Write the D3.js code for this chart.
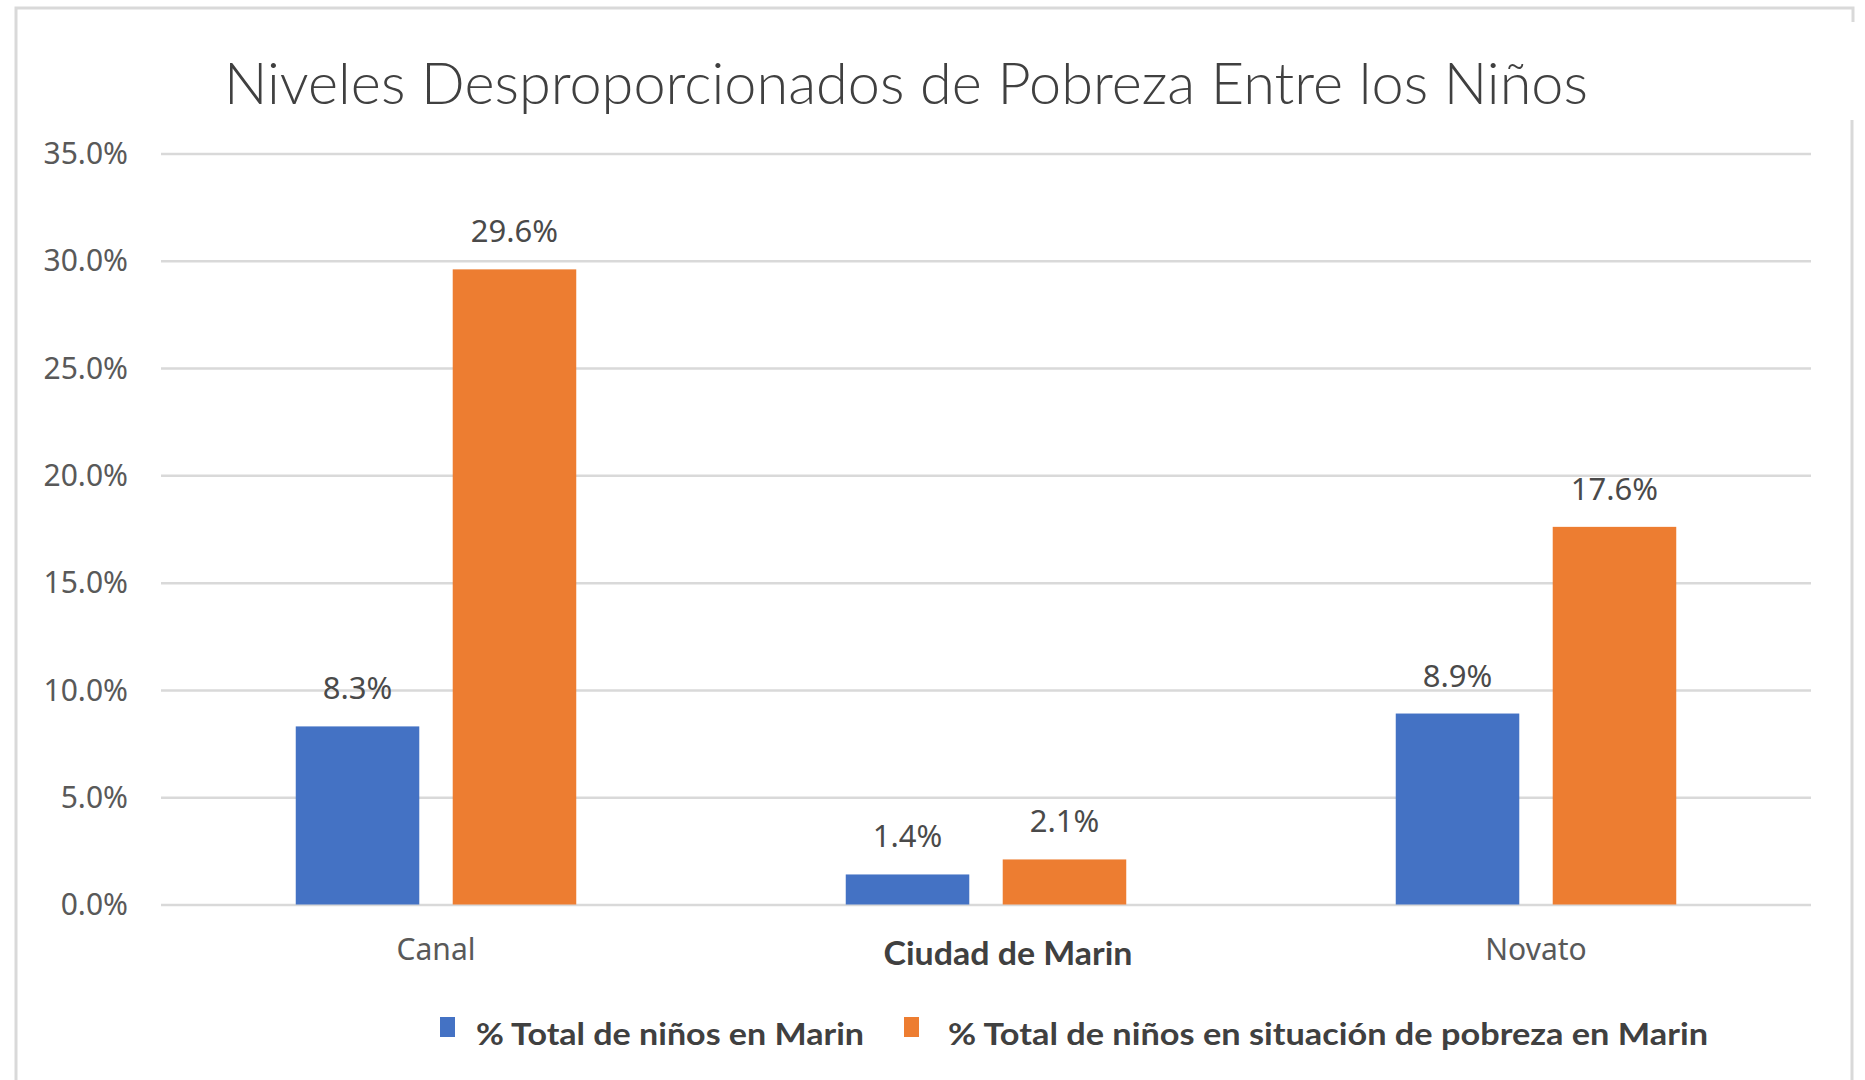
<!DOCTYPE html>
<html><head><meta charset="utf-8">
<script src="https://cdn.jsdelivr.net/npm/d3@7"></script>
<style>html,body{margin:0;padding:0;background:#fff;}svg{display:block;}</style>
</head><body>
<script>
const categories = ["Canal", "Ciudad de Marin", "Novato"];
const seriesNames = ["% Total de niños en Marin", "% Total de niños en situación de pobreza en Marin"];
const seriesTotal = [8.3, 1.4, 8.9];
const seriesPoverty = [29.6, 2.1, 17.6];
const yTicks = [0, 5, 10, 15, 20, 25, 30, 35];
const titleText = "Niveles Desproporcionados de Pobreza Entre los Niños";
const colors = ["#4472c4", "#ed7d31"];

const W = 1865, H = 1080;
const svg = d3.select("body").append("svg").attr("width", W).attr("height", H);

// frame
const frame = svg.append("g").attr("stroke", "#d9d9d9").attr("stroke-width", 3).attr("fill", "none");
frame.append("path").attr("d", "M16,1080 V8 H1853 V22");
frame.append("path").attr("d", "M1852,120 V1080");

const plot = {left: 161, right: 1811, top: 153.5, bottom: 904.5};
const x0 = d3.scaleBand().domain(categories).range([plot.left, plot.right]).paddingInner(0.49).paddingOuter(0.245);
const x1 = d3.scaleBand().domain([0, 1]).range([0, x0.bandwidth()]).paddingInner(0.213);
const y = d3.scaleLinear().domain([0, 35]).range([plot.bottom, plot.top]);

// gridlines via axis
const grid = svg.append("g").attr("transform", `translate(${plot.left},0)`)
  .call(d3.axisLeft(y).tickValues(yTicks).tickSize(-(plot.right - plot.left)).tickFormat(""));
grid.select(".domain").remove();
grid.selectAll("line").attr("stroke", "#d9d9d9").attr("stroke-width", 2.5);

// y labels
const yAxis = svg.append("g").attr("transform", `translate(128,0)`)
  .call(d3.axisLeft(y).tickValues(yTicks).tickSize(0).tickPadding(0).tickFormat(d => d.toFixed(1) + "%"));
yAxis.select(".domain").remove();
yAxis.selectAll("text").attr("font-family", "'Noto Sans', sans-serif").attr("font-size", 30).attr("fill", "#595959").attr("dy", "0.34em");

// bars
const rows = categories.map((c, i) => ({cat: c, vals: [seriesTotal[i], seriesPoverty[i]]}));
const groups = svg.append("g").selectAll("g").data(rows).join("g")
  .attr("transform", d => `translate(${x0(d.cat)},0)`);
groups.selectAll("rect").data(d => d.vals.map((v, k) => ({v, k}))).join("rect")
  .attr("x", d => x1(d.k)).attr("width", x1.bandwidth())
  .attr("y", d => y(d.v)).attr("height", d => y(0) - y(d.v))
  .attr("fill", d => colors[d.k]);
groups.selectAll("text").data(d => d.vals.map((v, k) => ({v, k}))).join("text")
  .attr("x", d => x1(d.k) + x1.bandwidth() / 2).attr("y", d => y(d.v) - 27)
  .attr("text-anchor", "middle").attr("font-family", "'Noto Sans', sans-serif").attr("font-size", 31)
  .attr("fill", "#4a4a4a").text(d => d.v.toFixed(1) + "%");

// category labels
const cat = svg.append("g").selectAll("text").data(categories).join("text")
  .attr("x", (d, i) => x0(d) + x0.bandwidth() / 2 + (i === 1 ? 22 : 0))
  .attr("y", (d, i) => i === 1 ? 965 : 960)
  .attr("text-anchor", "middle")
  .attr("font-family", (d, i) => i === 1 ? "Lato, sans-serif" : "'Noto Sans', sans-serif")
  .attr("font-weight", (d, i) => i === 1 ? 700 : 400)
  .attr("font-size", (d, i) => i === 1 ? 32 : 30)
  .attr("fill", (d, i) => i === 1 ? "#404040" : "#595959")
  .text(d => d);
cat.filter((d, i) => i === 1).attr("textLength", 249).attr("lengthAdjust", "spacingAndGlyphs");

// title
svg.append("text").attr("x", 224).attr("y", 104).attr("font-family", "Lato, sans-serif").attr("font-weight", 300)
  .attr("font-size", 58).attr("fill", "#404040").attr("textLength", 1364).attr("lengthAdjust", "spacingAndGlyphs").text(titleText);

// legend
const legendX = [[440, 476, 388], [904, 948, 760]];
const lg = svg.append("g").selectAll("g").data(seriesNames).join("g");
lg.append("rect").attr("x", (d, i) => legendX[i][0]).attr("y", 1017).attr("width", 15).attr("height", 20).attr("fill", (d, i) => colors[i]);
lg.append("text").attr("x", (d, i) => legendX[i][1]).attr("y", 1045).attr("font-family", "Lato, sans-serif").attr("font-weight", 700)
  .attr("font-size", 30).attr("fill", "#404040").attr("textLength", (d, i) => legendX[i][2]).attr("lengthAdjust", "spacingAndGlyphs").text(d => d);
</script>
</body></html>
